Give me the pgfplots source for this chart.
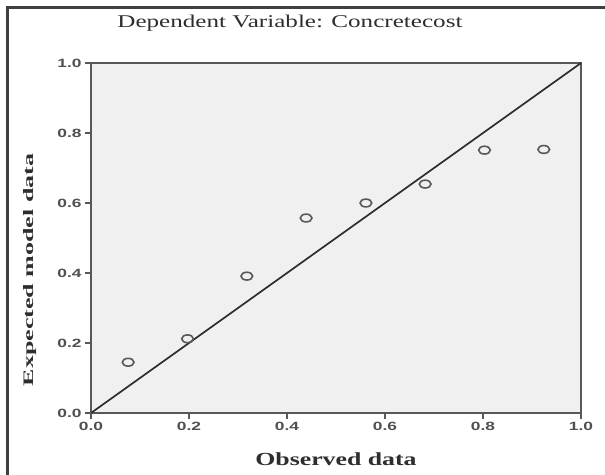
\documentclass[border=0pt]{standalone}
\usepackage{fontspec}
\usepackage{pgfplots}
\pgfplotsset{compat=1.18}
\setmainfont{Liberation Serif}
\newfontfamily\tickfont[FakeStretch=1.45]{Liberation Sans}
\newfontfamily\widefont[FakeStretch=1.4]{Liberation Serif}
\newfontfamily\ylabfont[FakeStretch=1.8]{Liberation Serif}
\definecolor{panel}{HTML}{F0F0F0}
\definecolor{axisgray}{HTML}{585858}
\definecolor{linedark}{HTML}{2E2E2E}
\definecolor{markgray}{HTML}{585858}
\definecolor{framedark}{HTML}{404040}
\definecolor{ticktext}{HTML}{505050}

\begin{document}
\begin{tikzpicture}[x=1bp, y=1bp]
\fill[white] (0,0) rectangle (605,475);
\useasboundingbox (0,0) rectangle (605,475);
\begin{axis}[at={(91bp,62bp)}, anchor=south west,
  scale only axis, width=490bp, height=350bp,
  xmin=0, xmax=1, ymin=0, ymax=1,
  xtick={0,0.2,...,1.0}, ytick={0,0.2,...,1.0},
  axis background/.style={fill=panel},
  axis line style={axisgray, line width=1.5bp},
  tick style={axisgray, line width=1.2bp},
  tick align=outside, major tick length=6bp,
  xtick pos=bottom, ytick pos=left,
  /pgf/number format/assume math mode=true,
  /pgf/number format/.cd, fixed, fixed zerofill, precision=1, /pgfplots/.cd,
  tick label style={font=\tickfont\bfseries\fontsize{12}{14}\selectfont, text=ticktext},
  title={Dependent Variable: Concretecost},
  title style={font=\widefont\fontsize{18}{20}\selectfont, text=linedark,
    at={(axis description cs:0.406,1.0857)}, anchor=base},
  xlabel={Observed data},
  xlabel style={font=\widefont\bfseries\fontsize{18.5}{20}\selectfont, text=linedark,
    at={(axis description cs:0.5,-0.1486)}, anchor=base},
  ylabel={Expected model data},
  ylabel style={font=\ylabfont\bfseries\fontsize{14.5}{17}\selectfont, text=linedark,
    at={(axis description cs:-0.1245,0.4086)}, anchor=center},
]
\addplot[linedark, line width=1.7bp] coordinates {(0,0) (1,1)};
\addplot[only marks, mark=o, mark size=3.9bp,
  mark options={xscale=1.5, draw=markgray, line width=1.6bp}] coordinates {
  (0.0758,0.145) (0.197,0.212) (0.318,0.391) (0.439,0.557)
  (0.561,0.600) (0.682,0.654) (0.803,0.751) (0.924,0.753)};
\end{axis}
\draw[framedark, line width=2.5bp] (7.5,0) -- (7.5,467.5) -- (610,467.5);
\end{tikzpicture}
\end{document}
